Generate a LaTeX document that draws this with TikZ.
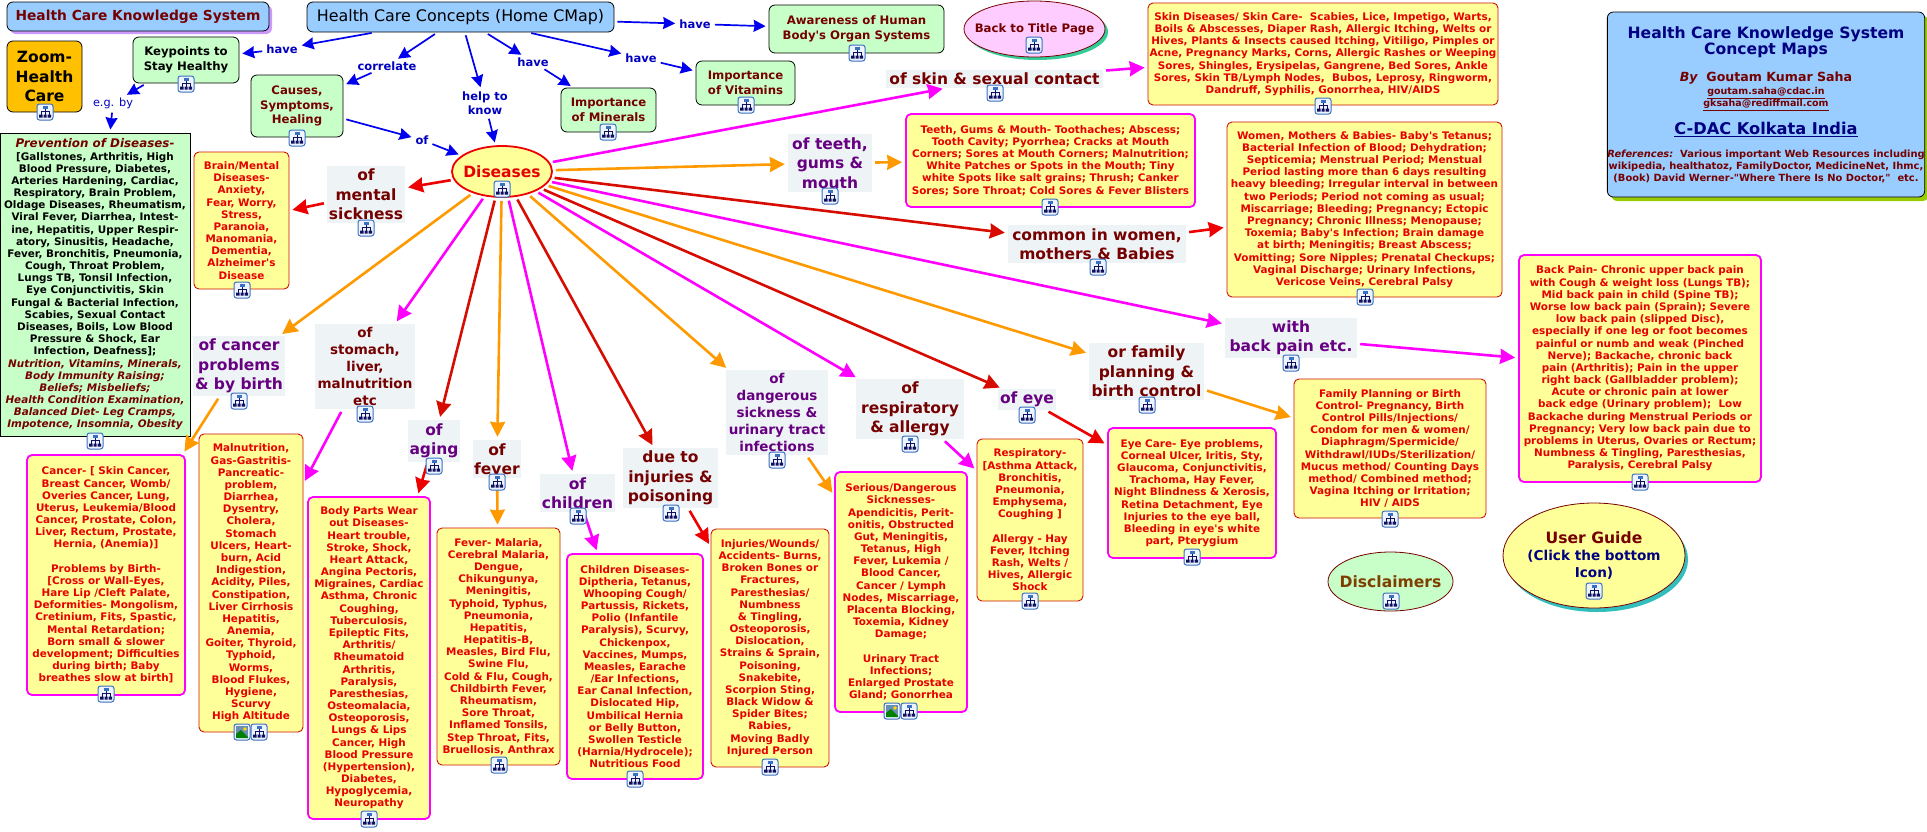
\documentclass[tikz,border=0pt]{standalone}
\usepackage{fontspec}
\setmainfont{DejaVu Sans}[Ligatures=TeXOff]
\usetikzlibrary{arrows.meta,positioning,shapes.geometric,shadows}

\definecolor{boxyellow}{HTML}{FFFF99}
\definecolor{conceptgreen}{HTML}{C8FFC8}
\definecolor{skyblue}{HTML}{99CCFF}
\definecolor{lblgray}{HTML}{EEF3F6}
\definecolor{txtred}{HTML}{E60000}
\definecolor{txtmaroon}{HTML}{750000}
\definecolor{txtpurple}{HTML}{660080}
\definecolor{txtnavy}{HTML}{000080}
\definecolor{txtbrown}{HTML}{7F3F00}
\definecolor{edgered}{HTML}{CC1100}
\definecolor{linkred}{HTML}{EE0000}
\definecolor{linkorange}{HTML}{FF9900}
\definecolor{linkmagenta}{HTML}{FF00FF}
\definecolor{linkblue}{HTML}{0000EE}
\definecolor{iconedge}{HTML}{3A70C0}
\definecolor{iconfill}{HTML}{EEF4FF}
\definecolor{iconnavy}{HTML}{101060}

\newcommand{\boxfont}{\fontsize{10.4}{12.17}\selectfont\bfseries}
\newcommand{\conceptfont}{\fontsize{11.7}{14.6}\selectfont\bfseries}
\newcommand{\lblfont}{\fontsize{15.5}{19.3}\selectfont\bfseries}
\newcommand{\lblsmallfont}{\fontsize{13.5}{17}\selectfont\bfseries}
\newcommand{\linkfont}{\fontsize{11.5}{14.4}\selectfont\bfseries}
\newcommand{\navyhead}[1]{{\fontsize{15.6}{19.7}\selectfont\bfseries\color{txtnavy}#1}}
\newcommand{\maroonnote}[1]{{\fontsize{9.9}{11}\selectfont\bfseries\color{txtmaroon}#1}}
\newcommand{\maroonmail}[1]{{\fontsize{9.5}{11}\selectfont\bfseries\color{txtmaroon}\underline{#1}}}
\newcommand{\maroonslant}[1]{{\color{txtmaroon}\itshape #1}}

\tikzset{
	yellowbox/.style={rectangle, rounded corners=5pt, fill=boxyellow, text=txtred, font=\boxfont, align=center, inner sep=0pt, execute at end node={\\[5pt]}},
	redbox/.style={yellowbox, draw=edgered, line width=.9pt},
	magbox/.style={yellowbox, draw=linkmagenta, line width=1.8pt},
	greenbox/.style={rectangle, rounded corners=6pt, draw=black, line width=.8pt, fill=conceptgreen, text=txtmaroon, font=\conceptfont, align=center, inner sep=0pt},
	maroonlbl/.style={rectangle, fill=lblgray, text=txtmaroon, font=\lblfont, align=center, inner sep=0pt},
	purplelbl/.style={maroonlbl, text=txtpurple},
	linklbl/.style={text=linkblue!80!black, font=\linkfont, align=center, inner sep=1pt},
	ovalnode/.style={ellipse, draw=txtmaroon, line width=.8pt, align=center, inner sep=-25pt},
	bluearrow/.style={linkblue, line width=1.7pt, -{Stealth[length=12pt,width=12pt,inset=1pt]}},
	redarrow/.style={linkred, line width=2.6pt, -{Stealth[length=15pt,width=15pt,inset=1pt]}},
	darkarrow/.style={redarrow, edgered!70!linkred},
	orangearrow/.style={redarrow, linkorange},
	magarrow/.style={redarrow, linkmagenta},
	treeicon/.pic={
		\path[-, draw=iconedge, fill=iconfill, rounded corners=2.5pt, line width=1pt] (-8,-8) rectangle (8,8);
		\path[-, draw=iconnavy, line width=.7pt, shorten >=0pt, shorten <=0pt] (0,-4) -- (0,3) (-4,3) -- (-4,-1) -- (4,-1) -- (4,3);
		\fill[iconedge] (-2.5,-6) rectangle (2.5,-3.5);
		\fill[iconnavy] (-6,2.5) rectangle (-2.5,5.5) (-1.5,2.5) rectangle (1.5,5.5) (2.5,2.5) rectangle (6,5.5);
	},
	photoicon/.pic={
		\path[-, draw=iconedge, fill=iconfill, rounded corners=2.5pt, line width=1pt] (-8,-8) rectangle (8,8);
		\fill[skyblue!70!black] (-6,-6) rectangle (6,6);
		\fill[green!50!black] (-6,6) -- (-6,2) -- (-1,-2) -- (6,5) -- (6,6) -- cycle;
		\fill[yellow!80!orange] (3,-3) circle (1.8);
	},
}

\begin{document}
\begin{tikzpicture}[x=1pt, y=-1pt, ->, >=Stealth, shorten >=3pt, shorten <=3pt]
	\useasboundingbox (0,0) rectangle (1927,831);

	% top row
	\node[rectangle, rounded corners=6pt, draw=black, line width=.8pt, fill=skyblue, text=txtmaroon, font=\fontsize{13.8}{16}\selectfont\bfseries, drop shadow={shadow xshift=3pt, shadow yshift=-3pt, fill={rgb,255:red,204;green,153;blue,255}, opacity=1}, minimum width=262pt, minimum height=29pt, inner sep=0pt] (title) at (138,16.5) {Health Care Knowledge System};
	\node[rectangle, rounded corners=6pt, draw=black, line width=.8pt, fill=skyblue, font=\fontsize{15.9}{18}\selectfont, minimum width=307pt, minimum height=30pt, inner sep=0pt] (home) at (460.5,17) {Health Care Concepts (Home CMap)};
	\node[greenbox, fill={rgb,255:red,255;green,192;blue,0}, text=black, font=\fontsize{15.5}{19.3}\selectfont\bfseries, minimum width=75pt, minimum height=71pt, execute at end node={\\[5pt]}] (zoomcare) at (44.5,76.5) {Zoom-\\Health\\Care};
	\node[greenbox, text=black, minimum width=106pt, minimum height=46pt, execute at end node={\\[5pt]}] (keypoints) at (186,60) {Keypoints to\\Stay Healthy};
	\node[greenbox, minimum width=92pt, minimum height=62pt, execute at end node={\\[5pt]}] (causes) at (297,106) {Causes,\\Symptoms,\\Healing};
	\node[greenbox, minimum width=175pt, minimum height=48pt, execute at end node={\\[5pt]}] (awareness) at (856.5,29) {Awareness of Human\\Body's Organ Systems};
	\node[greenbox, minimum width=99pt, minimum height=44pt, execute at end node={\\[5pt]}] (vitamins) at (745.5,83) {Importance\\of Vitamins};
	\node[greenbox, minimum width=95pt, minimum height=44pt, execute at end node={\\[5pt]}] (minerals) at (608.5,110) {Importance\\of Minerals};
	\node[ovalnode, fill={rgb,255:red,255;green,204;blue,255}, text=txtmaroon, font=\conceptfont, drop shadow={shadow xshift=3pt, shadow yshift=-3pt, fill={rgb,255:red,51;green,204;blue,153}, opacity=1}, minimum width=141pt, minimum height=56pt, execute at end node={\\[6pt]}] (backtitle) at (1034.5,29) {Back to Title Page};
	\node[ovalnode, draw=linkred, line width=1.8pt, fill=boxyellow, text=txtred, font=\fontsize{15.5}{18}\selectfont\bfseries, minimum width=100pt, minimum height=51pt] (diseases) at (502,171.5) {Diseases};

	% info panel
	\node[rectangle, rounded corners=6pt, draw=black, line width=.8pt, fill=skyblue, align=center, inner sep=0pt, drop shadow={shadow xshift=4pt, shadow yshift=-4pt, fill={rgb,255:red,153;green,204;blue,0}, opacity=1}, minimum width=310pt, minimum height=185pt] (info) at (1766,104.5) {\navyhead{Health Care Knowledge System}\\\navyhead{Concept Maps}\\[14pt]{\fontsize{12.6}{14}\selectfont\bfseries\color{txtmaroon}{\itshape By}\ \ Goutam Kumar Saha}\\[1pt]\maroonmail{goutam.saha@cdac.in}\\\maroonmail{gksaha@rediffmail.com}\\[10pt]{\fontsize{16.2}{19.7}\selectfont\bfseries\color{txtnavy}\underline{C-DAC Kolkata India}}\\[11pt]\maroonnote{{\itshape References:}\ \ Various important Web Resources including}\\\maroonnote{wikipedia, healthatoz, FamilyDoctor, MedicineNet, Ihmc,}\\\maroonnote{(Book) David Werner-"Where There Is No Doctor,"\ \ etc.}};

	% prevention panel
	\node[rectangle, draw=black, line width=1pt, fill=conceptgreen, text=black, font=\boxfont, align=center, inner sep=0pt, minimum width=190pt, minimum height=303pt] (prevention) at (95,284.5) {\maroonslant{\fontsize{11.9}{12.2}\selectfont Prevention of Diseases-}\\{[}Gallstones, Arthritis, High\\Blood Pressure, Diabetes,\\Arteries Hardening, Cardiac,\\Respiratory, Brain Problem,\\Oldage Diseases, Rheumatism,\\Viral Fever, Diarrhea, Intest-\\ine, Hepatitis, Upper Respir-\\atory, Sinusitis, Headache,\\Fever, Bronchitis, Pneumonia,\\Cough, Throat Problem,\\Lungs TB, Tonsil Infection,\\Eye Conjunctivitis, Skin\\Fungal \& Bacterial Infection,\\Scabies, Sexual Contact\\Diseases, Boils, Low Blood\\Pressure \& Shock, Ear\\Infection, Deafness];\\\maroonslant{Nutrition, Vitamins, Minerals,}\\\maroonslant{Body Immunity Raising;}\\\maroonslant{Beliefs; Misbeliefs;}\\\maroonslant{Health Condition Examination,}\\\maroonslant{Balanced Diet- Leg Cramps,}\\\maroonslant{Impotence, Insomnia, Obesity}};

	% link labels
	\node[linklbl] (haveleft) at (282,49) {have};
	\node[linklbl] (correlate) at (387,66) {correlate};
	\node[linklbl] (helpknow) at (485,103) {help to\\know};
	\node[linklbl] (havelow) at (533,62) {have};
	\node[linklbl] (havemid) at (641,58) {have};
	\node[linklbl] (haveright) at (695,24) {have};
	\node[linklbl] (ofcauses) at (422,140) {of};
	\node[linklbl, font=\fontsize{11.3}{14}\selectfont] (egby) at (113,103) {e.g. by};

	% disease labels
	\node[maroonlbl, minimum width=78pt, minimum height=57pt] (mentallbl) at (366,194.5) {of\\mental\\sickness};
	\node[maroonlbl, minimum width=217pt, minimum height=18pt] (skinlbl) at (994.5,79) {of skin \& sexual contact};
	\node[purplelbl, minimum width=84pt, minimum height=58pt] (teethlbl) at (830,163) {of teeth,\\gums \&\\mouth};
	\node[maroonlbl, minimum width=178pt, minimum height=38pt] (womenlbl) at (1097,244) {common in women,\\mothers \& Babies};
	\node[purplelbl, minimum width=132pt, minimum height=40pt] (backlbl) at (1291,338) {with\\back pain etc.};
	\node[maroonlbl, minimum width=115pt, minimum height=57pt] (familylbl) at (1146.5,371.5) {or family\\planning \&\\birth control};
	\node[purplelbl, minimum width=58pt, minimum height=21pt] (eyelbl) at (1027,399.5) {of eye};
	\node[maroonlbl, minimum width=108pt, minimum height=60pt] (resplbl) at (910,409) {of\\respiratory\\\& allergy};
	\node[purplelbl, font=\lblsmallfont, minimum width=102pt, minimum height=85pt] (dangerlbl) at (777,412.5) {of\\dangerous\\sickness \&\\urinary tract\\infections};
	\node[maroonlbl, minimum width=95pt, minimum height=60pt] (injurylbl) at (670.5,478) {due to\\injuries \&\\poisoning};
	\node[purplelbl, minimum width=75pt, minimum height=38pt] (childlbl) at (577.5,493) {of\\children};
	\node[maroonlbl, minimum width=48pt, minimum height=38pt] (feverlbl) at (497,459) {of\\fever};
	\node[purplelbl, minimum width=52pt, minimum height=42pt] (agelbl) at (434,441) {of\\aging};
	\node[maroonlbl, font=\lblsmallfont, minimum width=100pt, minimum height=85pt] (stomachlbl) at (365,366.5) {of\\stomach,\\liver,\\malnutrition\\etc};
	\node[purplelbl, minimum width=92pt, minimum height=60pt] (cancerlbl) at (239,366) {of cancer\\problems\\\& by birth};

	% disease boxes
	\node[redbox, minimum width=95pt, minimum height=137pt] (brainbox) at (241.5,220.5) {Brain/Mental\\Diseases-\\Anxiety,\\Fear, Worry,\\Stress,\\Paranoia,\\Manomania,\\Dementia,\\Alzheimer's\\Disease};
	\node[redbox, minimum width=350pt, minimum height=102pt] (skinbox) at (1323,54) {Skin Diseases/ Skin Care-\ \ Scabies, Lice, Impetigo, Warts,\\Boils \& Abscesses, Diaper Rash, Allergic Itching, Welts or\\Hives, Plants \& Insects caused Itching, Vitiligo, Pimples or\\Acne, Pregnancy Marks, Corns, Allergic Rashes or Weeping\\Sores, Shingles, Erysipelas, Gangrene, Bed Sores, Ankle\\Sores, Skin TB/Lymph Nodes,\ \ Bubos, Leprosy, Ringworm,\\Dandruff, Syphilis, Gonorrhea, HIV/AIDS};
	\node[magbox, minimum width=289pt, minimum height=93pt] (teethbox) at (1050.5,160.5) {Teeth, Gums \& Mouth- Toothaches; Abscess;\\Tooth Cavity; Pyorrhea; Cracks at Mouth\\Corners; Sores at Mouth Corners; Malnutrition;\\White Patches or Spots in the Mouth; Tiny\\white Spots like salt grains; Thrush; Canker\\Sores; Sore Throat; Cold Sores \& Fever Blisters};
	\node[redbox, minimum width=275pt, minimum height=175pt] (womenbox) at (1364.5,209.5) {Women, Mothers \& Babies- Baby's Tetanus;\\Bacterial Infection of Blood; Dehydration;\\Septicemia; Menstrual Period; Menstual\\Period lasting more than 6 days resulting\\heavy bleeding; Irregular interval in between\\two Periods; Period not coming as usual;\\Miscarriage; Bleeding; Pregnancy; Ectopic\\Pregnancy; Chronic Illness; Menopause;\\Toxemia; Baby's Infection; Brain damage\\at birth; Meningitis; Breast Abscess;\\Vomitting; Sore Nipples; Prenatal Checkups;\\Vaginal Discharge; Urinary Infections,\\Vericose Veins, Cerebral Palsy};
	\node[magbox, minimum width=242pt, minimum height=227pt] (backbox) at (1640,368.5) {Back Pain- Chronic upper back pain\\with Cough \& weight loss (Lungs TB);\\Mid back pain in child (Spine TB);\\Worse low back pain (Sprain); Severe\\low back pain (slipped Disc),\\especially if one leg or foot becomes\\painful or numb and weak (Pinched\\Nerve); Backache, chronic back\\pain (Arthritis); Pain in the upper\\right back (Gallbladder problem);\\Acute or chronic pain at lower\\back edge (Urinary problem);\ \ Low\\Backache during Menstrual Periods or\\Pregnancy; Very low back pain due to\\problems in Uterus, Ovaries or Rectum;\\Numbness \& Tingling, Paresthesias,\\Paralysis, Cerebral Palsy};
	\node[redbox, minimum width=192pt, minimum height=139pt] (familybox) at (1390,448.5) {Family Planning or Birth\\Control- Pregnancy, Birth\\Control Pills/Injections/\\Condom for men \& women/\\Diaphragm/Spermicide/\\Withdrawl/IUDs/Sterilization/\\Mucus method/ Counting Days\\method/ Combined method;\\Vagina Itching or Irritation;\\HIV / AIDS};
	\node[magbox, minimum width=168pt, minimum height=130pt] (eyebox) at (1192,493) {Eye Care- Eye problems,\\Corneal Ulcer, Iritis, Sty,\\Glaucoma, Conjunctivitis,\\Trachoma, Hay Fever,\\Night Blindness \& Xerosis,\\Retina Detachment, Eye\\Injuries to the eye ball,\\Bleeding in eye's white\\part, Pterygium};
	\node[redbox, minimum width=106pt, minimum height=162pt] (respbox) at (1030,520) {Respiratory-\\{[}Asthma Attack,\\Bronchitis,\\Pneumonia,\\Emphysema,\\Coughing ]\\[12.17pt]Allergy - Hay\\Fever, Itching\\Rash, Welts /\\Hives, Allergic\\Shock};
	\node[magbox, minimum width=132pt, minimum height=240pt] (dangerbox) at (901,592) {Serious/Dangerous\\Sicknesses-\\Apendicitis, Perit-\\onitis, Obstructed\\Gut, Meningitis,\\Tetanus, High\\Fever, Lukemia /\\Blood Cancer,\\Cancer / Lymph\\Nodes, Miscarriage,\\Placenta Blocking,\\Toxemia, Kidney\\Damage;\\[12.17pt]Urinary Tract\\Infections;\\Enlarged Prostate\\Gland; Gonorrhea};
	\node[redbox, minimum width=118pt, minimum height=238pt] (injurybox) at (770,648) {Injuries/Wounds/\\Accidents- Burns,\\Broken Bones or\\Fractures,\\Paresthesias/\\Numbness\\\& Tingling,\\Osteoporosis,\\Dislocation,\\Strains \& Sprain,\\Poisoning,\\Snakebite,\\Scorpion Sting,\\Black Widow \&\\Spider Bites;\\Rabies,\\Moving Badly\\Injured Person};
	\node[magbox, minimum width=136pt, minimum height=225pt] (childbox) at (635,666.5) {Children Diseases-\\Diptheria, Tetanus,\\Whooping Cough/\\Partussis, Rickets,\\Polio (Infantile\\Paralysis), Scurvy,\\Chickenpox,\\Vaccines, Mumps,\\Measles, Earache\\/Ear Infections,\\Ear Canal Infection,\\Dislocated Hip,\\Umbilical Hernia\\or Belly Button,\\Swollen Testicle\\(Harnia/Hydrocele);\\Nutritious Food};
	\node[redbox, minimum width=123pt, minimum height=237pt] (feverbox) at (498.5,646.5) {Fever- Malaria,\\Cerebral Malaria,\\Dengue,\\Chikungunya,\\Meningitis,\\Typhoid, Typhus,\\Pneumonia,\\Hepatitis,\\Hepatitis-B,\\Measles, Bird Flu,\\Swine Flu,\\Cold \& Flu, Cough,\\Childbirth Fever,\\Rheumatism,\\Sore Throat,\\Inflamed Tonsils,\\Step Throat, Fits,\\Bruellosis, Anthrax};
	\node[magbox, minimum width=122pt, minimum height=322pt] (agebox) at (369,658) {Body Parts Wear\\out Diseases-\\Heart trouble,\\Stroke, Shock,\\Heart Attack,\\Angina Pectoris,\\Migraines, Cardiac\\Asthma, Chronic\\Coughing,\\Tuberculosis,\\Epileptic Fits,\\Arthritis/\\Rheumatoid\\Arthritis,\\Paralysis,\\Paresthesias,\\Osteomalacia,\\Osteoporosis,\\Lungs \& Lips\\Cancer, High\\Blood Pressure\\(Hypertension),\\Diabetes,\\Hypoglycemia,\\Neuropathy};
	\node[redbox, minimum width=104pt, minimum height=298pt] (stomachbox) at (251,583) {Malnutrition,\\Gas-Gastritis-\\Pancreatic-\\problem,\\Diarrhea,\\Dysentry,\\Cholera,\\Stomach\\Ulcers, Heart-\\burn, Acid\\Indigestion,\\Acidity, Piles,\\Constipation,\\Liver Cirrhosis\\Hepatitis,\\Anemia,\\Goiter, Thyroid,\\Typhoid,\\Worms,\\Blood Flukes,\\Hygiene,\\Scurvy\\High Altitude};
	\node[magbox, minimum width=158pt, minimum height=240pt] (cancerbox) at (106,575) {Cancer- [ Skin Cancer,\\Breast Cancer, Womb/\\Overies Cancer, Lung,\\Uterus, Leukemia/Blood\\Cancer, Prostate, Colon,\\Liver, Rectum, Prostate,\\Hernia, (Anemia)]\\[12.17pt]Problems by Birth-\\{[}Cross or Wall-Eyes,\\Hare Lip /Cleft Palate,\\Deformities- Mongolism,\\Cretinium, Fits, Spastic,\\Mental Retardation;\\Born small \& slower\\development; Difficulties\\during birth; Baby\\breathes slow at birth]};

	% ovals at the lower right
	\node[ovalnode, fill=conceptgreen, text=txtbrown, font=\fontsize{15.6}{18}\selectfont\bfseries, minimum width=125pt, minimum height=59pt] (disclaimers) at (1390.5,581.5) {Disclaimers};
	\node[ovalnode, fill=boxyellow, text=txtnavy, font=\fontsize{13.6}{17}\selectfont\bfseries, drop shadow={shadow xshift=3pt, shadow yshift=-4pt, fill={rgb,255:red,51;green,190;blue,190}, opacity=1}, minimum width=182pt, minimum height=105pt, execute at end node={\\[6pt]}] (userguide) at (1594,555.5) {{\color{txtmaroon}\fontsize{15.6}{17}\selectfont User Guide}\\(Click the bottom\\Icon)};

	% blue links
	\path
		(home) edge[bluearrow] (haveleft)
		(haveleft) edge[bluearrow] (keypoints)
		(home) edge[bluearrow] (correlate)
		(correlate) edge[bluearrow] (causes)
		(home) edge[bluearrow] (helpknow)
		(helpknow) edge[bluearrow] (diseases)
		(home) edge[bluearrow] (havelow)
		(havelow) edge[bluearrow] (minerals)
		(home) edge[bluearrow] (havemid)
		(havemid) edge[bluearrow] (vitamins)
		(home) edge[bluearrow] (haveright)
		(haveright) edge[bluearrow] (awareness)
		(causes) edge[bluearrow] (ofcauses)
		(ofcauses) edge[bluearrow] (diseases)
		(keypoints) edge[bluearrow] (egby)
		(egby) edge[bluearrow] (prevention);
	% out of diseases
	\path
		(diseases) edge[redarrow] (mentallbl)
		(mentallbl) edge[redarrow] (brainbox)
		(diseases) edge[magarrow] (skinlbl)
		(skinlbl) edge[magarrow] (skinbox)
		(diseases) edge[orangearrow] (teethlbl)
		(teethlbl) edge[orangearrow] (teethbox)
		(diseases) edge[darkarrow] (womenlbl)
		(womenlbl) edge[redarrow] (womenbox)
		(diseases) edge[magarrow] (backlbl)
		(backlbl) edge[magarrow] (backbox)
		(diseases) edge[orangearrow] (familylbl)
		(familylbl) edge[orangearrow] (familybox)
		(diseases) edge[darkarrow] (eyelbl)
		(eyelbl) edge[redarrow] (eyebox)
		(diseases) edge[magarrow] (resplbl)
		(resplbl) edge[magarrow] (respbox)
		(diseases) edge[orangearrow] (dangerlbl)
		(dangerlbl) edge[orangearrow] (dangerbox)
		(diseases) edge[darkarrow] (injurylbl)
		(injurylbl) edge[redarrow] (injurybox)
		(diseases) edge[magarrow] (childlbl)
		(childlbl) edge[magarrow] (childbox)
		(diseases) edge[orangearrow] (feverlbl)
		(feverlbl) edge[orangearrow] (feverbox)
		(diseases) edge[darkarrow] (agelbl)
		(agelbl) edge[redarrow] (agebox)
		(diseases) edge[magarrow] (stomachlbl)
		(stomachlbl) edge[magarrow] (stomachbox)
		(diseases) edge[orangearrow] (cancerlbl)
		(cancerlbl) edge[orangearrow] (cancerbox);

	% map icons
	\foreach \ix/\iy in {45/112,186/84,297/138,95/441,242/290,366/228,502/189,857/53,1034/45,746/105,608/132,995/93,830/196,1050/207,1323/106,1365/297,1098/267,1640/482,1291/363,1390/519,1147/405,1192/557,1391/601,1594/591,909/711,1030/601,910/444,777/460,1027/415,671/513,578/516,497/482,434/466,365/414,239/401,106/694,259/732,369/819,499/765,635/779,770/767}
		\pic at (\ix,\iy) {treeicon};
	\pic at (242,732) {photoicon};
	\pic at (892,711) {photoicon};
\end{tikzpicture}
\end{document}
